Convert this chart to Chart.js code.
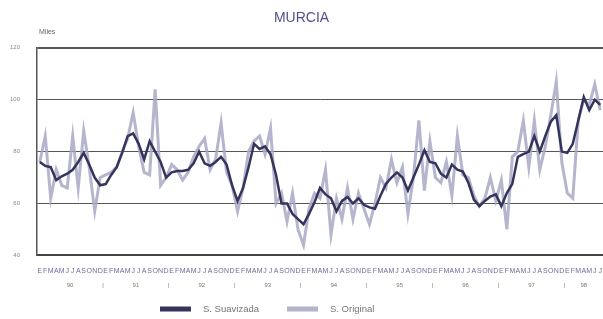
<!DOCTYPE html>
<html>
<head>
<meta charset="utf-8">
<script src="https://cdn.jsdelivr.net/npm/chart.js@4.4.1/dist/chart.umd.min.js"></script>
<style>
    body { margin: 0; background: #fff; }
    #wrap { width: 603px; height: 319px; position: relative; }
</style>
</head>
<body>
<div id="wrap"><canvas id="chart"></canvas></div>
<script>
// Murcia, miles, enero 1990 - julio 1998
const monthLetters = ['E', 'F', 'M', 'A', 'M', 'J', 'J', 'A', 'S', 'O', 'N', 'D'];
const years = ['90', '91', '92', '93', '94', '95', '96', '97', '98'];
const yTicks = [40, 60, 80, 100, 120];

const suavizada = [
    76, 74.5, 74, 69, 70.5, 71.5, 73, 76, 79.5, 75, 70, 67,        // 90
    67.5, 71, 74, 79.5, 86, 87, 83, 77, 84, 80, 76, 70,            // 91
    72, 72.5, 72.5, 73, 75.5, 80, 75.5, 74.5, 76, 78, 75, 67,      // 92
    61, 66, 74, 83, 81, 82, 79, 71, 60, 60, 56, 54,                // 93
    52, 56, 60.5, 66, 63.5, 62, 57, 61, 62.5, 60, 62, 59.5,        // 94
    58.5, 58, 63, 67.5, 70, 72, 70, 65, 70, 75, 80.5, 76,          // 95
    75.5, 71.5, 70, 75, 73, 72.3, 68, 61.5, 59, 61, 62.7, 63.5,    // 96
    59, 64, 67.6, 78, 79, 80, 86, 80, 86, 91.5, 94, 80,            // 97
    79.5, 83, 92, 101, 96, 100, 98                                 // 98
];

const original = [
    76, 86, 62, 73, 67, 66, 86, 66, 88, 74, 57, 70,
    71, 72, 74, 80, 85, 95, 82, 72, 71, 104, 67, 70,
    75, 73, 69, 72, 78, 82, 85, 73, 77, 91, 72, 67,
    57, 66, 80, 84, 86, 79, 89, 60, 64, 53, 64, 50,
    44, 58, 64, 62, 73, 48, 62, 54, 66, 54, 64, 58,
    52, 60, 70, 66, 77, 68, 74, 56, 70, 92, 65, 84,
    70, 68, 76, 63, 86, 71, 70, 63, 59, 62, 70, 61,
    69, 50, 78, 80, 92, 74, 92, 73, 82, 94, 107, 76,
    64, 62, 92, 100, 98, 106, 96
];

// month letter under every point
const labels = [];
for (let i = 0; i < suavizada.length; i++) {
    labels.push(monthLetters[i % 12]);
}

// year names centred under their months, bars between years
const yearTicks = [];
const yearText = {};
years.forEach(function(yr, k) {
    const start = k * 12;
    const end = Math.min(start + 11, suavizada.length - 1);
    if (k > 0) {
        yearTicks.push(start - 0.5);
        yearText[start - 0.5] = '|';
    }
    const mid = (start + end) / 2;
    yearTicks.push(mid);
    yearText[mid] = yr;
});

const darkColor = '#34345c';
const greyColor = 'rgba(168, 168, 196, 0.85)';

// "Miles" above the axis
const unitsLabel = {
    id: 'unitsLabel',
    afterDraw(chart) {
        const ctx = chart.ctx;
        ctx.save();
        ctx.font = '7px "Liberation Sans", Arial, sans-serif';
        ctx.fillStyle = '#666';
        ctx.textBaseline = 'middle';
        ctx.fillText('Miles', chart.chartArea.left + 2, chart.chartArea.top - 16);
        ctx.restore();
    }
};

// legend row at the bottom
const bottomLegend = {
    id: 'bottomLegend',
    afterDraw(chart) {
        const ctx = chart.ctx;
        const y = chart.height - 10;
        const spots = [160, 287];
        ctx.save();
        ctx.font = '9.5px "Liberation Sans", Arial, sans-serif';
        ctx.textBaseline = 'middle';
        chart.data.datasets.forEach(function(ds, i) {
            const x = spots[i];
            ctx.fillStyle = ds.backgroundColor;
            ctx.fillRect(x, y - 2.5, 31, 5);
            ctx.fillStyle = '#777';
            ctx.fillText(ds.label, x + 43, y);
        });
        ctx.restore();
    }
};

new Chart(document.getElementById('chart'), {
    type: 'line',
    data: {
        labels: labels,
        datasets: [
            {
                label: 'S. Suavizada',
                data: suavizada,
                borderColor: darkColor,
                backgroundColor: darkColor,
                borderWidth: 2.5,
                pointRadius: 0,
                tension: 0
            },
            {
                label: 'S. Original',
                data: original,
                borderColor: greyColor,
                backgroundColor: '#b4b4cc',
                borderWidth: 3,
                pointRadius: 0,
                tension: 0
            }
        ]
    },
    options: {
        responsive: true,
        maintainAspectRatio: false,
        animation: false,
        layout: { padding: { left: 0, right: 0, top: 0, bottom: 30 } },
        plugins: {
            legend: { display: false },
            tooltip: { enabled: false },
            title: {
                display: true,
                text: 'MURCIA',
                color: '#50508a',
                font: { family: '"Liberation Sans", Arial, sans-serif', size: 14, weight: 'normal' },
                padding: { top: 10, bottom: 21 }
            }
        },
        scales: {
            x: {
                type: 'category',
                position: 'bottom',
                offset: true,
                grid: { display: false, drawTicks: true, tickLength: 11 },
                border: { display: true, color: '#444', width: 2 },
                ticks: {
                    autoSkip: false,
                    maxRotation: 0,
                    minRotation: 0,
                    padding: 0,
                    color: '#6c6c9c',
                    font: { family: '"Liberation Sans", Arial, sans-serif', size: 7 }
                }
            },
            years: {
                type: 'linear',
                position: 'bottom',
                weight: 1,
                min: -0.5,
                max: suavizada.length - 0.5,
                grid: { display: false, drawTicks: true, tickLength: 7 },
                border: { display: false },
                afterBuildTicks: function(axis) {
                    axis.ticks = yearTicks.map(function(v) { return { value: v }; });
                },
                ticks: {
                    autoSkip: false,
                    maxRotation: 0,
                    padding: 0,
                    color: '#777',
                    font: { family: '"Liberation Sans", Arial, sans-serif', size: 6 },
                    callback: function(value) { return yearText[value]; }
                }
            },
            y: {
                min: 40,
                max: 120,
                afterBuildTicks: function(axis) {
                    axis.ticks = yTicks.map(function(v) { return { value: v }; });
                },
                afterFit: function(axis) { axis.width = 37; },
                grid: {
                    color: '#555',
                    lineWidth: function(c) { return c.tick && c.tick.value === 120 ? 2 : 1; },
                    drawTicks: false
                },
                border: { display: true, color: '#555', width: 1.5 },
                ticks: {
                    padding: 17,
                    color: '#888',
                    font: { family: '"Liberation Sans", Arial, sans-serif', size: 6 }
                }
            }
        }
    },
    plugins: [unitsLabel, bottomLegend]
});
</script>
</body>
</html>
